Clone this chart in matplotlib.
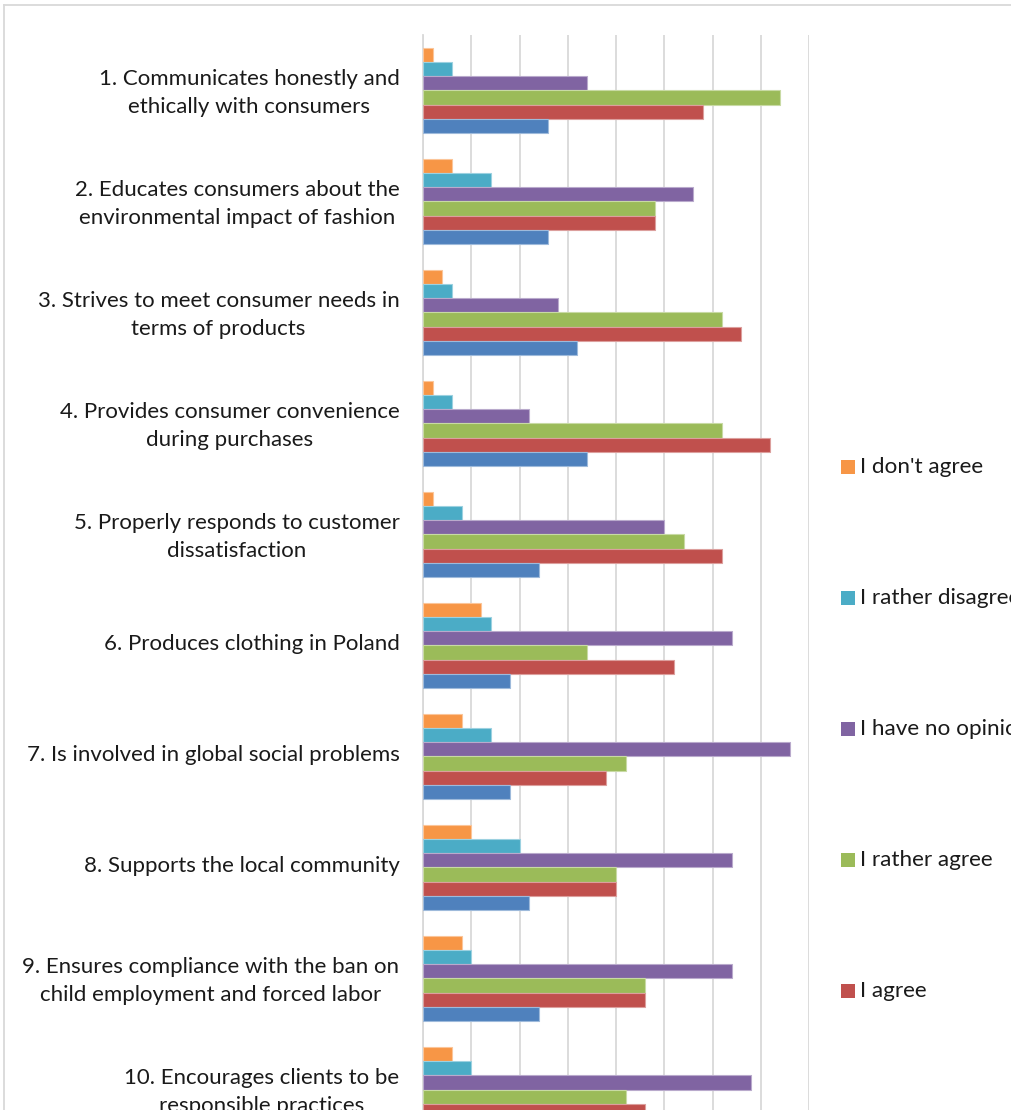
# -*- coding: utf-8 -*-
# Clustered horizontal bar chart, Excel style, cropped at the right and bottom
import numpy as np
import matplotlib
matplotlib.use('Agg')
import matplotlib.pyplot as plt
from matplotlib.lines import Line2D
from matplotlib.patches import Rectangle

plt.rcParams['font.family'] = ['Lato', 'DejaVu Sans']

# ===================== data =====================
categories = [
    "1. Communicates honestly and\nethically with consumers",
    "2. Educates consumers about the\nenvironmental impact of fashion",
    "3. Strives to meet consumer needs in\nterms of products",
    "4. Provides consumer convenience\nduring purchases",
    "5. Properly responds to customer\ndissatisfaction",
    "6. Produces clothing in Poland",
    "7. Is involved in global social problems",
    "8. Supports the local community",
    "9. Ensures compliance with the ban on\nchild employment and forced labor",
    "10. Encourages clients to be\nresponsible practices",
]

# series listed top -> bottom inside each group (same as legend order)
series_names = ["I don't agree", "I rather disagree", "I have no opinion",
                "I rather agree", "I agree", "I definitely agree"]
dont_agree       = [1, 3, 2, 1, 1, 6, 4, 5, 4, 3]
rather_disagree  = [3, 7, 3, 3, 4, 7, 7, 10, 5, 5]
no_opinion       = [17, 28, 14, 11, 25, 32, 38, 32, 32, 34]
rather_agree     = [37, 24, 31, 31, 27, 17, 21, 20, 23, 21]
agree            = [29, 24, 33, 36, 31, 26, 19, 20, 23, 23]
definitely_agree = [13, 13, 16, 17, 12, 9, 9, 11, 12, 14]
series_values = [dont_agree, rather_disagree, no_opinion,
                 rather_agree, agree, definitely_agree]
colors = ['#F79646', '#4BACC6', '#8064A2', '#9BBB59', '#C0504D', '#4F81BD']

x_ticks = [0, 5, 10, 15, 20, 25, 30, 35, 40]

# ===================== figure =====================
W, H = 1012, 1110
fig = plt.figure(figsize=(W / 100, H / 100), dpi=100)

def fx(px):
    return px / W

def fy(py):
    return 1 - py / H

# plot area: x 423..809 px, top at 35 px, bottom beyond the image
ax = fig.add_axes([fx(423), fy(1145), fx(809) - fx(423), fy(35) - fy(1145)])

grid_col = '#D9D9D9'
text_col = '#1a1a1a'
n = len(categories)
pos = np.arange(n)
bar_h = 0.128

def lighten(c, f=0.45):
    rgb = np.array(matplotlib.colors.to_rgb(c))
    return tuple(rgb + (1 - rgb) * f)

for j, (vals, col) in enumerate(zip(series_values, colors)):
    ax.barh(pos + (j - 2.5) * bar_h, vals, height=bar_h, color=col,
            edgecolor=lighten(col), linewidth=0.8, label=series_names[j],
            zorder=3)

ax.set_xlim(0, 40)
ax.set_ylim(n - 0.5, -0.5)
ax.set_xticks(x_ticks)
ax.xaxis.grid(True, color=grid_col, linewidth=1.3, zorder=0)
# the value labels sit below the visible part of the chart
ax.tick_params(axis='x', labelbottom=False)
ax.tick_params(axis='both', length=0)
ax.tick_params(axis='y', pad=17, labelsize=16, labelcolor=text_col)
# labels sit a few pixels above the group centre (no tick marks are shown)
ax.set_yticks(pos - 0.03)
ax.set_yticklabels(categories)
for lab in ax.get_yticklabels():
    lab.set_multialignment('center')
    lab.set_linespacing(1.5)
for s in ['top', 'right', 'bottom']:
    ax.spines[s].set_visible(False)
ax.spines['left'].set_color(grid_col)
ax.spines['left'].set_linewidth(1.3)

# chart frame (only left and top are inside the image)
fig.add_artist(Line2D([fx(4), fx(4)], [fy(5), -0.1], color=grid_col, lw=1.3))
fig.add_artist(Line2D([fx(4), 1.1], [fy(5), fy(5)], color=grid_col, lw=1.3))

# legend, drawn by hand so that it runs off the right edge like the original
for i, (name, col) in enumerate(zip(series_names, colors)):
    yc = 467 + 131 * i
    fig.add_artist(Rectangle((fx(841), fy(yc + 7)), fx(855) - fx(841),
                             fy(yc - 7) - fy(yc + 7), transform=fig.transFigure,
                             facecolor=col, edgecolor='none'))
    fig.text(fx(860), fy(yc), name, fontsize=16.2, color=text_col,
             ha='left', va='center')

fig.savefig('out.png', dpi=100)
